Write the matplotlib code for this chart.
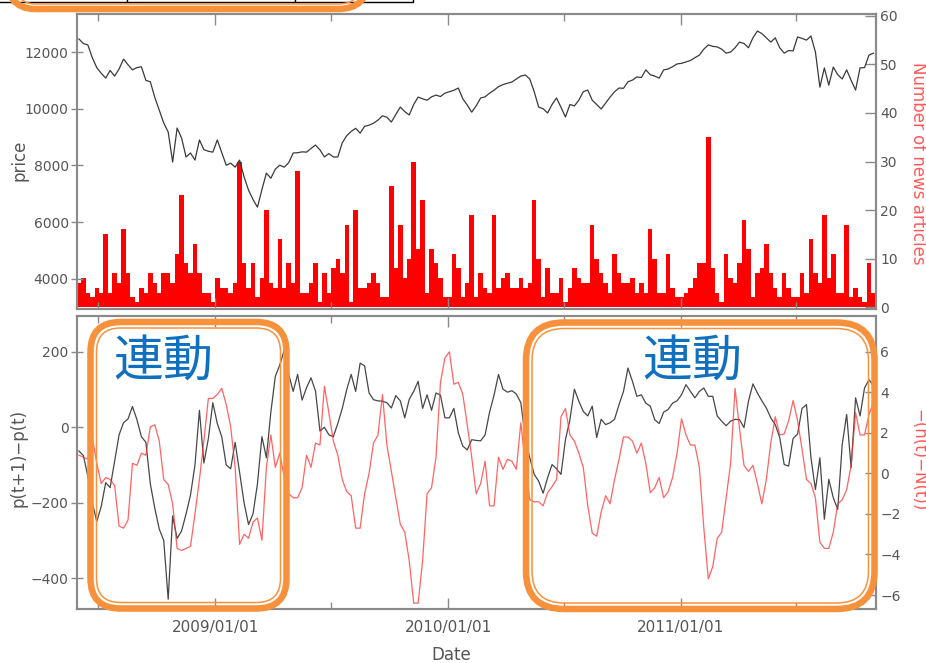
import matplotlib
matplotlib.use('Agg')
import matplotlib.pyplot as plt
import matplotlib.dates as mdates
from matplotlib.patches import FancyBboxPatch, Rectangle
from matplotlib.lines import Line2D
from matplotlib.transforms import IdentityTransform
import pandas as pd

# weekly samples, first one at the start of June 2008
weeks = pd.date_range('2008-06-01', periods=179, freq='7D')

price = [12460, 12300, 12250, 11800, 11450, 11250, 11080, 11350, 11150, 11400,
         11750, 11550, 11370, 11450, 11480, 11000, 10950, 10400, 9950, 9500,
         9180, 8120, 9320, 8970, 8300, 8440, 8190, 8900, 8560, 8500,
         8470, 8900, 8450, 8010, 8080, 7940, 8190, 7600, 7130, 6800,
         6530, 7150, 7730, 7550, 7870, 8010, 7940, 8100, 8440, 8450,
         8480, 8470, 8600, 8720, 8550, 8300, 8420, 8300, 8300, 8800,
         9050, 9200, 9310, 9140, 9380, 9420, 9490, 9600, 9750, 9700,
         9530, 9800, 10060, 9900, 9780, 10150, 10410, 10350, 10300, 10420,
         10480, 10430, 10550, 10600, 10650, 10730, 10350, 10130, 9880, 10100,
         10380, 10420, 10550, 10650, 10780, 10850, 10900, 10940, 11050, 11150,
         11190, 11050, 10600, 10060, 10000, 9850, 10150, 10380, 10050, 9710,
         10150, 10100, 10300, 10600, 10660, 10300, 10150, 9990, 10200, 10410,
         10600, 10730, 10720, 10950, 11010, 11120, 11100, 11370, 11200, 11150,
         11080, 11370, 11400, 11480, 11580, 11600, 11650, 11700, 11800, 11890,
         12100, 12250, 12200, 12180, 12100, 11960, 12000, 12150, 12350, 12300,
         12150, 12500, 12740, 12650, 12500, 12350, 12500, 12150, 11960, 12050,
         12040, 12530, 12480, 12420, 12560, 12000, 10760, 11440, 10830, 11470,
         11200, 11050, 11370, 11000, 10660, 11440, 11450, 11890, 11960]

news = [5, 6, 3, 2, 4, 3, 15, 3, 7, 5,
        16, 7, 2, 1, 4, 3, 7, 5, 3, 7,
        7, 5, 11, 23, 9, 7, 13, 7, 3, 3,
        1, 6, 4, 4, 3, 5, 30, 9, 4, 9,
        2, 6, 20, 5, 4, 14, 4, 9, 5, 28,
        3, 3, 5, 9, 1, 7, 3, 8, 10, 7,
        17, 1, 20, 4, 4, 5, 7, 5, 2, 2,
        25, 8, 17, 6, 10, 30, 12, 22, 3, 12,
        9, 6, 2, 2, 11, 8, 2, 5, 19, 2,
        7, 4, 3, 19, 4, 6, 7, 4, 4, 6,
        4, 5, 22, 10, 2, 8, 3, 3, 6, 1,
        4, 8, 6, 5, 5, 17, 10, 7, 5, 3,
        11, 7, 5, 5, 6, 3, 5, 3, 16, 10,
        3, 3, 11, 4, 2, 2, 3, 4, 6, 9,
        9, 35, 8, 3, 1, 11, 6, 5, 9, 18,
        12, 2, 7, 8, 13, 7, 4, 2, 7, 4,
        2, 2, 7, 3, 14, 7, 5, 19, 6, 11,
        3, 3, 17, 2, 4, 2, 1, 9, 3]

dprice = [-63, -75, -130, -200, -250, -210, -147, -160, -90, -20,
          12, 22, 55, 20, -25, -40, -150, -215, -270, -300,
          -456, -235, -295, -275, -230, -180, -100, 45, -95, -30,
          65, 10, -25, -100, -110, -40, -120, -200, -258, -230,
          -150, -25, -81, 40, 135, 165, 205, 140, 95, 140,
          72, 105, 131, 96, -10, 0, -20, -25, 10, 50,
          100, 140, 95, 170, 163, 91, 73, 70, 69, 65,
          51, 84, 70, 25, 74, 95, 122, 50, 86, 45,
          91, 85, 25, 25, 50, -15, -50, -60, -33, -35,
          -36, -20, 40, 85, 140, 101, 93, 97, 88, 65,
          -27, -81, -125, -143, -175, -134, -99, -110, -125, -33,
          20, 101, 69, 42, 30, 56, -27, 21, 7, 12,
          21, 60, 95, 157, 122, 82, 86, 64, 56, 20,
          10, 40, 47, 64, 70, 86, 113, 95, 78, 95,
          104, 82, 82, 30, 16, 4, 16, 21, 20, -1,
          69, 115, 91, 70, 51, 25, 7, -27, -99, -103,
          -30, -18, 50, 60, -81, -165, -81, -244, -138, -187,
          -218, -46, 34, -107, 78, 30, 104, 126, 110]

dnews = [0.9, 0.8, 0.7, 1.8, 0.5, -0.5, -0.2, -0.3, -0.6, -2.6,
         -2.7, -2.3, 0.5, 0.4, 1.0, 0.9, 2.3, 2.4, 1.6, -0.3,
         -0.55, -1.5, -3.7, -3.8, -3.7, -3.6, -2.0, -0.3, 1.6, 3.7,
         3.7, 3.9, 4.2, 3.4, 2.3, 0.3, -3.5, -3.0, -3.2, -2.4,
         -2.2, -3.3, 0.3, 1.9, 0.3, 1.0, -0.2, -1.0, -1.2, -1.2,
         -0.7, 0.9, 0.3, 1.5, 1.4, 4.3, 3.0, 1.6, 0.9, -0.3,
         -0.9, -1.1, -2.7, -2.7, -1.0, 0.0, 1.5, 1.9, 3.9, 1.4,
         0.1, -1.2, -2.5, -2.9, -4.3, -6.4, -6.4, -4.3, -1.0, -0.7,
         0.8, 4.5, 5.7, 6.0, 4.4, 4.5, 3.9, 2.4, 0.8, -1.0,
         -0.5, 0.6, -1.6, -1.6, 0.8, 0.2, 0.7, 0.6, 0.2, 2.5,
         0.5, -1.3, -1.4, -1.4, -1.6, -0.95, -0.65, -0.3, 2.8, 3.2,
         1.9, 1.6, 1.0, 0.3, -1.6, -2.95, -3.1, -1.9, -1.1, -1.5,
         -0.3, 0.7, 1.8, 1.8, 1.6, 1.0, 1.5, 0.5, -0.95, -0.7,
         -0.2, -1.2, -0.9, -0.2, 1.0, 2.7, 1.9, 1.4, 1.4, 0.3,
         -2.7, -5.2, -4.6, -3.2, -2.9, -1.2, 0.5, 4.2, 2.2, 0.4,
         0.1, 0.4, -0.5, -1.5, -0.3, 1.5, 2.8, 1.9, 1.95, 2.6,
         3.6, 2.6, 1.2, -0.3, -0.5, -1.2, -3.4, -3.7, -3.7, -2.9,
         -1.5, -1.3, -0.8, 0.4, 3.0, 1.9, 1.9, 2.9, 3.5]

W, H = 926, 663
grey = '#555555'
spine_col = '#8a8a8a'
orange = '#f7913c'
pink = '#ff5a5a'

fig = plt.figure(figsize=(W / 100, H / 100), dpi=100)


def px_axes(x0, y0, x1, y1):
    return fig.add_axes([x0 / W, 1 - y1 / H, (x1 - x0) / W, (y1 - y0) / H])


def ptext(x, y, s, **kw):
    fig.text(x / W, 1 - y / H, s, **kw)


def rbox(x0, y0, x1, y1, r, lw):
    p = FancyBboxPatch((x0, H - y1), x1 - x0, y1 - y0,
                       boxstyle='round,pad=0,rounding_size=%g' % r,
                       transform=IdentityTransform(), fill=False,
                       edgecolor=orange, linewidth=lw, zorder=20)
    fig.add_artist(p)


ax1 = px_axes(77, 14, 876, 309)
ax1r = ax1.twinx()
ax2 = px_axes(77, 316, 876, 609)
ax2r = ax2.twinx()

# top: price line over weekly article counts
ax1r.bar(weeks, news, width=7, color='#ff0000', linewidth=0)
ax1.plot(weeks, price, color='#3a3a3a', lw=0.9)
ax1.set_zorder(ax1r.get_zorder() + 1)
ax1.patch.set_visible(False)

# bottom: price change vs news deviation
ax2.plot(weeks, dprice, color='#333333', lw=0.9, alpha=0.9)
ax2r.plot(weeks, dnews, color='#ff3030', lw=0.9, alpha=0.75)

ax1.set_ylim(2940, 13340)
ax1.set_yticks([4000, 6000, 8000, 10000, 12000])
ax1r.set_ylim(-0.4, 60.4)
ax1r.set_yticks(range(0, 61, 10))
ax2.set_ylim(-482, 295)
ax2.set_yticks([-400, -200, 0, 200])
ax2r.set_ylim(-6.69, 7.77)
ax2r.set_yticks(range(-6, 7, 2))

for ax in (ax1, ax2):
    ax.set_xlim(pd.Timestamp('2008-05-29'), pd.Timestamp('2011-11-03'))
    ax.xaxis.set_major_locator(mdates.YearLocator())
    ax.xaxis.set_minor_locator(mdates.MonthLocator(bymonth=7))
    ax.xaxis.set_major_formatter(mdates.DateFormatter('%Y/%m/%d'))
    ax.tick_params(axis='x', which='both', direction='in', top=True, bottom=True,
                   color=spine_col, width=1)
    ax.tick_params(axis='x', which='major', length=8)
    ax.tick_params(axis='x', which='minor', length=5)
    ax.tick_params(axis='y', direction='inout', length=9, pad=1.5, width=1,
                   color=spine_col, labelsize=10, labelcolor=grey)
ax1.tick_params(axis='x', labelbottom=False)
ax2.tick_params(axis='x', labelsize=11, labelcolor=grey, pad=8)
for ax in (ax1r, ax2r):
    ax.tick_params(axis='y', direction='in', length=8, pad=3, width=1,
                   color=spine_col, labelsize=10, labelcolor=grey)
for ax in (ax1, ax1r, ax2, ax2r):
    for s in ax.spines.values():
        s.set_color(spine_col)
        s.set_linewidth(1.5)

ptext(19, 160, 'price', rotation=90, ha='center', va='center', fontsize=12, color=grey)
ptext(19, 458, 'p(t+1)\u2212p(t)', rotation=90, ha='center', va='center', fontsize=12, color=grey)
ptext(918, 163, 'Number of news articles', rotation=270, ha='center', va='center',
      fontsize=12, color=pink)
ptext(918, 460, '\u2212(n(t)\u2212N(t))', rotation=270, ha='center', va='center',
      fontsize=12, color=pink)
ptext(451, 655, 'Date', ha='center', va='center', fontsize=12, color=grey)

# orange highlight boxes (double line)
rbox(90.5, 322, 286.5, 608.5, 30, 4.7)
rbox(96.5, 328, 280.5, 602.5, 24, 1.1)
rbox(526, 322.5, 874.5, 609, 38, 4.7)
rbox(532, 328.5, 868.5, 603, 32, 1.1)

jp = ['Noto Sans CJK JP', 'DejaVu Sans']
ptext(163, 363, '連動', ha='center', va='center', fontsize=36, color='#1070c0', family=jp, zorder=21)
ptext(692, 363, '連動', ha='center', va='center', fontsize=36, color='#1070c0', family=jp, zorder=21)

# cut-off table and box at the very top
fig.add_artist(Rectangle((-5, H - 2), 418, 10, transform=IdentityTransform(),
                         fill=False, edgecolor='black', linewidth=1))
for xv in (127, 295):
    fig.add_artist(Line2D([xv, xv], [H - 2, H + 2], transform=IdentityTransform(),
                          color='black', linewidth=1))
rbox(5, -60, 368, 9, 30, 4.7)
rbox(11, -60, 362, 4, 24, 1.1)

fig.savefig('out.png', dpi=100)
